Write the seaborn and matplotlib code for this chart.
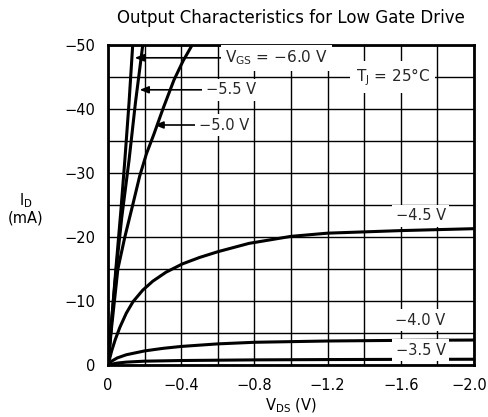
import numpy as np
import pandas as pd
import matplotlib
matplotlib.use("Agg")
import matplotlib.pyplot as plt
import matplotlib.transforms as mtransforms
import seaborn as sns

# ---- data ----
vgs_names = ["-6.0", "-5.5", "-5.0", "-4.5", "-4.0", "-3.5"]

vds_60 = [0, -0.02, -0.043, -0.07, -0.092, -0.115, -0.135]
id_60 = [0, -7, -15, -24, -32, -41, -50]

vds_55 = [0, -0.02, -0.045, -0.075, -0.115, -0.15, -0.19]
id_55 = [0, -7, -15, -23, -32, -41, -50]

vds_50 = [0, -0.02, -0.054, -0.092, -0.135, -0.173, -0.21, -0.25, -0.3, -0.36, -0.41, -0.46]
id_50 = [0, -6, -15, -20, -25, -29.5, -33, -36, -40, -44.5, -47.5, -50]

vds_45 = [0, -0.02, -0.04, -0.065, -0.1, -0.137, -0.19, -0.245, -0.317, -0.407,
          -0.5, -0.6, -0.77, -1.0, -1.2, -1.6, -2.0]
id_45 = [0, -2.2, -4.0, -5.9, -8.1, -9.9, -11.7, -13.1, -14.5, -15.8,
         -16.8, -17.7, -19.0, -20.1, -20.6, -21.0, -21.3]

vds_40 = [0, -0.02, -0.05, -0.1, -0.2, -0.3, -0.4, -0.6, -0.8, -1.2, -1.6, -2.0]
id_40 = [0, -0.6, -1.1, -1.6, -2.2, -2.6, -2.9, -3.3, -3.55, -3.75, -3.85, -3.9]

vds_35 = [0, -0.05, -0.1, -0.2, -0.4, -0.8, -1.2, -1.6, -2.0]
id_35 = [0, -0.3, -0.45, -0.6, -0.7, -0.8, -0.85, -0.88, -0.9]

x_ticks = [0, -0.4, -0.8, -1.2, -1.6, -2.0]
x_ticklabels = ["0", "\u22120.4", "\u22120.8", "\u22121.2", "\u22121.6", "\u22122.0"]
y_ticks = [0, -10, -20, -30, -40, -50]
y_ticklabels = ["0", "\u221210", "\u221220", "\u221230", "\u221240", "\u221250"]

curves = {
    "-6.0": (vds_60, id_60),
    "-5.5": (vds_55, id_55),
    "-5.0": (vds_50, id_50),
    "-4.5": (vds_45, id_45),
    "-4.0": (vds_40, id_40),
    "-3.5": (vds_35, id_35),
}
rows = []
for name in vgs_names:
    vv, ii = curves[name]
    for k, (v, i) in enumerate(zip(vv, ii)):
        rows.append({"VGS": name, "VDS": v, "ID": i, "order": k})
df = pd.DataFrame(rows)

# ---- style ----
sns.set_theme(style="white")
plt.rcParams["font.family"] = ["DejaVu Sans"]
plt.rcParams["mathtext.default"] = "regular"

FS = 10.5
fig = plt.figure(figsize=(4.88, 4.17), dpi=100)
ax = fig.add_axes([108 / 488, 1 - 365 / 417, 366 / 488, 320 / 417])

# grid
ax.set_xlim(0, -2.0)
ax.set_ylim(0, -50)
ax.set_xticks(np.arange(0, -2.01, -0.2), minor=True)
ax.set_yticks(np.arange(0, -50.1, -5), minor=True)
ax.grid(which="both", color="black", lw=1.0, zorder=0)
ax.set_axisbelow(True)

sns.lineplot(data=df, x="VDS", y="ID", hue="VGS", units="VGS", estimator=None,
             sort=False, palette=["black"] * 6, legend=False, lw=2.2, ax=ax,
             zorder=3)

ax.set_xlim(0, -2.0)
ax.set_ylim(0, -50)
ax.set_xticks(x_ticks)
ax.set_xticklabels(x_ticklabels)
ax.set_yticks(y_ticks)
ax.set_yticklabels(y_ticklabels)
ax.tick_params(which="both", length=0, labelsize=FS, colors="black", pad=9)
last = ax.get_xticklabels()[-1]
last.set_transform(last.get_transform() +
                   mtransforms.ScaledTranslation(-5 / 100, 0, fig.dpi_scale_trans))
for s in ax.spines.values():
    s.set_color("black")
    s.set_linewidth(2.0)
    s.set_zorder(5)

ax.set_xlabel("V$_{DS}$ (V)", fontsize=FS, color="black", labelpad=3)
ax.set_ylabel("I$_{D}$\n(mA)", fontsize=FS, color="black", rotation=0,
              ha="center", va="center", linespacing=1.0)
ax.yaxis.set_label_coords(-0.224, 0.49)
ax.set_title("Output Characteristics for Low Gate Drive", fontsize=12,
             color="black", pad=16)

box = dict(boxstyle="square,pad=0.25", fc="white", ec="none")
arrow = dict(arrowstyle="-|>,head_length=0.5,head_width=0.2", color="black",
             lw=1.2, shrinkA=0, shrinkB=0)

ax.annotate("V$_{GS}$ = \u22126.0 V", xy=(-0.146, -48), xytext=(-0.64, -48),
            ha="left", va="center", fontsize=11, bbox=box, arrowprops=arrow,
            zorder=6)
ax.annotate("\u22125.5 V", xy=(-0.173, -43), xytext=(-0.535, -43),
            ha="left", va="center", fontsize=FS, bbox=box, arrowprops=arrow,
            zorder=6)
ax.annotate("\u22125.0 V", xy=(-0.254, -37.5), xytext=(-0.495, -37.5),
            ha="left", va="center", fontsize=FS, bbox=box, arrowprops=arrow,
            zorder=6)

ax.text(-1.557, -45, "T$_{J}$ = 25\u00b0C", ha="center", va="center",
        fontsize=11, bbox=dict(boxstyle="square,pad=0.35", fc="white", ec="none"),
        zorder=6)
for lab, yy in [("\u22124.5 V", -23.3), ("\u22124.0 V", -7.0), ("\u22123.5 V", -2.3)]:
    ax.text(-1.708, yy, lab, ha="center", va="center", fontsize=FS,
            bbox=dict(boxstyle="square,pad=0.25", fc="white", ec="none"), zorder=6)

fig.savefig("out.png", dpi=100)
